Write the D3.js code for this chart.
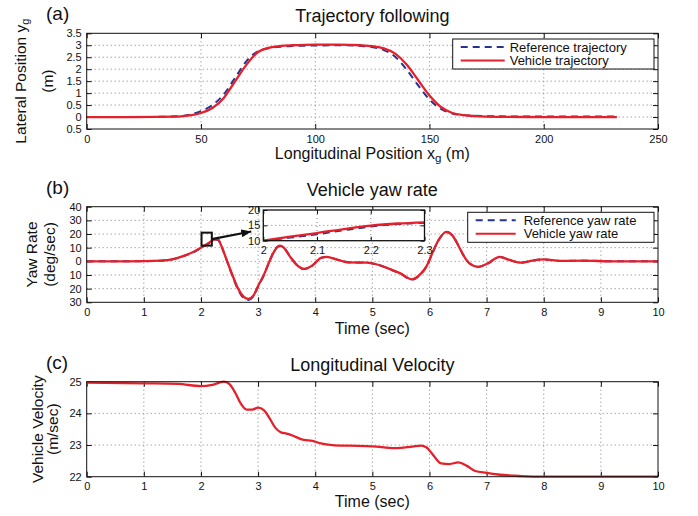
<!DOCTYPE html>
<html>
<head>
<meta charset="utf-8">
<script src="https://cdn.jsdelivr.net/npm/d3@7"></script>
<style>
body { margin: 0; background: #fff; }
text { font-family: "Liberation Sans", Arial, sans-serif; fill: #111; }
</style>
</head>
<body>
<div id="chart"></div>
<script>
// ---- data ----

// (a) trajectory following
var trajX   = [0, 20, 40, 45, 50, 55, 60, 65, 70, 75, 80, 85, 90, 100, 110, 120, 125, 130, 135, 140, 145, 150, 155, 160, 165, 170, 180, 200, 232];
var trajRef = [0, 0, 0.03, 0.1, 0.25, 0.5, 0.95, 1.65, 2.35, 2.75, 2.88, 2.94, 2.97, 2.99, 3.0, 2.97, 2.92, 2.8, 2.52, 1.98, 1.33, 0.73, 0.34, 0.15, 0.08, 0.05, 0.03, 0.02, 0.02];
var trajVeh = [0, 0, 0.02, 0.07, 0.17, 0.38, 0.8, 1.5, 2.2, 2.72, 2.9, 2.97, 3.0, 3.03, 3.03, 3.0, 2.96, 2.87, 2.65, 2.2, 1.55, 0.9, 0.42, 0.17, 0.08, 0.04, 0.01, 0, 0];
var trajXTicks = [0, 50, 100, 150, 200, 250];
var trajYTicks = [-0.5, 0, 0.5, 1, 1.5, 2, 2.5, 3, 3.5];

// (b) yaw rate
var yawT   = [0, 0.5, 1, 1.3, 1.5, 1.7, 1.9, 2.0, 2.1, 2.2, 2.25, 2.3, 2.35, 2.45, 2.55, 2.65, 2.75, 2.83, 2.92, 3.0, 3.1, 3.2, 3.3, 3.38, 3.45, 3.55, 3.65, 3.8, 3.95, 4.1, 4.2, 4.4, 4.6, 4.9, 5.1, 5.3, 5.5, 5.69, 5.85, 5.95, 6.05, 6.15, 6.3, 6.4, 6.5, 6.6, 6.7, 6.85, 7.0, 7.23, 7.4, 7.61, 7.8, 8.0, 8.3, 8.7, 9.2, 10];
var yawRef = [0, 0, 0.1, 0.5, 1.5, 4, 7.3, 9.7, 12.1, 14.8, 15.9, 15.6, 11.8, 0.8, -10.5, -20.8, -27, -28.3, -25.5, -18.5, -10.2, 0.3, 9, 11.3, 10, 4.2, -1.3, -5.6, -3.1, 2.5, 3.2, 1, -0.8, -1, -2.6, -5.6, -9.2, -13.4, -9.2, -3.6, 5.8, 14.8, 21.4, 19, 12.2, 4.2, -1.4, -4.1, -2.1, 3.2, 1, -1, 0.5, 1.4, 0.3, 0.5, 0, 0];
var yawVeh = [0, 0, 0.1, 0.5, 1.5, 4, 7.5, 10, 12.5, 15.3, 16.3, 16, 12, 1, -10, -20, -26, -27.5, -25, -18, -10, 0, 8.5, 11.5, 10, 4, -1.5, -5.5, -3, 2.5, 3.2, 1, -0.8, -1, -2.5, -5.5, -9, -13.2, -9, -3.5, 6, 15, 21.6, 19, 12, 4, -1.5, -4, -2, 3.3, 1, -1, 0.5, 1.4, 0.3, 0.5, 0, 0];
var timeTicks = [0, 1, 2, 3, 4, 5, 6, 7, 8, 9, 10];
var yawYTicks = [-30, -20, -10, 0, 10, 20, 30, 40];

// (b) inset, t = 2 .. 2.3
var zoomT   = [2, 2.05, 2.1, 2.15, 2.2, 2.25, 2.3];
var zoomRef = [10, 11.0, 12.1, 13.4, 14.6, 15.4, 15.8];
var zoomVeh = [10, 11.3, 12.5, 13.8, 14.9, 15.6, 16.0];
var zoomXTicks = [2, 2.1, 2.2, 2.3];
var zoomYTicks = [10, 15, 20];
var zoomBoxT = [2.01, 2.19];
var zoomBoxV = [11.5, 21];

// (c) longitudinal velocity
var velT   = [0, 1, 1.6, 2.0, 2.2, 2.4, 2.5, 2.6, 2.7, 2.8, 2.9, 3.0, 3.1, 3.2, 3.3, 3.4, 3.5, 3.6, 3.8, 3.95, 4.1, 4.3, 4.6, 5.0, 5.4, 5.7, 5.85, 5.95, 6.05, 6.2, 6.35, 6.5, 6.65, 6.8, 7.0, 7.2, 7.6, 8, 9, 10];
var velVeh = [24.97, 24.95, 24.93, 24.86, 24.9, 25.0, 24.92, 24.65, 24.3, 24.12, 24.12, 24.18, 24.1, 23.85, 23.55, 23.4, 23.36, 23.3, 23.16, 23.13, 23.05, 23.0, 22.98, 22.96, 22.9, 22.95, 22.98, 22.92, 22.72, 22.42, 22.4, 22.45, 22.35, 22.18, 22.12, 22.07, 22.02, 22.0, 22.0, 22.0];
var velYTicks = [22, 23, 24, 25];

// ---- layout ----
var plotL = 86.7, plotR = 658;
var red = "#e6202a", blue = "#26338f";
var absFmt = function(d) { return String(Math.abs(d)); };

var svg = d3.select("#chart").append("svg")
            .attr("width", 698)
            .attr("height", 516);

function makePanel(p) {
    var x = d3.scaleLinear().domain(p.xDomain).range([plotL, plotR]);
    var y = d3.scaleLinear().domain(p.yDomain).range([p.bottom, p.top]);
    var g = svg.append("g");

    // dotted grid
    g.selectAll(null).data(p.xTicks.slice(1, -1)).enter().append("line")
        .attr("x1", d => x(d)).attr("x2", d => x(d))
        .attr("y1", p.top).attr("y2", p.bottom)
        .attr("stroke", "#808080").attr("stroke-dasharray", "1,3");
    g.selectAll(null).data(p.yTicks.slice(1, -1)).enter().append("line")
        .attr("y1", d => y(d)).attr("y2", d => y(d))
        .attr("x1", plotL).attr("x2", plotR)
        .attr("stroke", "#808080").attr("stroke-dasharray", "1,3");

    // ticks on all four sides, pointing in
    g.append("g").attr("transform", "translate(0," + p.bottom + ")")
        .call(d3.axisBottom(x).tickValues(p.xTicks).tickSize(-5).tickPadding(6).tickFormat(p.xFormat || absFmt));
    g.append("g").attr("transform", "translate(0," + p.top + ")")
        .call(d3.axisTop(x).tickValues(p.xTicks).tickSize(-5).tickFormat(""));
    g.append("g").attr("transform", "translate(" + plotL + ",0)")
        .call(d3.axisLeft(y).tickValues(p.yTicks).tickSize(-5).tickPadding(5).tickFormat(absFmt));
    g.append("g").attr("transform", "translate(" + plotR + ",0)")
        .call(d3.axisRight(y).tickValues(p.yTicks).tickSize(-5).tickFormat(""));
    g.selectAll(".domain").remove();
    g.selectAll(".tick line").attr("stroke", "#111");
    g.selectAll(".tick text").attr("font-size", 11).attr("font-family", null).style("fill", "#111");

    // title and panel letter
    svg.append("text").attr("x", (plotL + plotR) / 2).attr("y", p.top - 11)
        .attr("text-anchor", "middle").attr("font-size", 18).text(p.title);
    svg.append("text").attr("x", 46).attr("y", p.top - 13)
        .attr("font-size", 19).text(p.letter);

    return {x: x, y: y, g: g};
}

function frame(g, p) {
    g.append("rect").attr("x", plotL).attr("y", p.top)
        .attr("width", plotR - plotL).attr("height", p.bottom - p.top)
        .attr("fill", "none").attr("stroke", "#111").attr("stroke-width", 1);
}

function drawLine(g, xs, ys, x, y, color, dashed) {
    var line = d3.line().x((d, i) => x(xs[i])).y(d => y(d)).curve(d3.curveMonotoneX);
    g.append("path").datum(ys).attr("d", line)
        .attr("fill", "none").attr("stroke", color)
        .attr("stroke-width", dashed ? 2 : 2.3)
        .attr("stroke-dasharray", dashed ? "7,5" : null);
}

function legend(g, x0, y0, w, h, sample, textX, items) {
    g.append("rect").attr("x", x0).attr("y", y0).attr("width", w).attr("height", h)
        .attr("fill", "#fff").attr("stroke", "#111");
    items.forEach(function(it, i) {
        var cy = y0 + 8 + i * 13.5;
        g.append("line").attr("x1", x0 + sample[0]).attr("x2", x0 + sample[1])
            .attr("y1", cy).attr("y2", cy)
            .attr("stroke", it.color).attr("stroke-width", 2)
            .attr("stroke-dasharray", it.dashed ? "7,5" : null);
        g.append("text").attr("x", x0 + textX).attr("y", cy + 4.5)
            .attr("font-size", 13).text(it.label);
    });
}

function yLabel(cy, x1, x2, line1, sub, line2) {
    var t = svg.append("text").attr("transform", "translate(" + x1 + "," + cy + ") rotate(-90)")
        .attr("text-anchor", "middle").attr("font-size", 15.5);
    t.append("tspan").text(line1);
    if (sub) t.append("tspan").attr("font-size", 11).attr("dy", 3).text(sub);
    svg.append("text").attr("transform", "translate(" + x2 + "," + cy + ") rotate(-90)")
        .attr("text-anchor", "middle").attr("font-size", 15.5).text(line2);
}

// ---- (a) ----
var pa = {top: 33.3, bottom: 129, xDomain: [0, 250], yDomain: [-0.5, 3.5],
          xTicks: trajXTicks, yTicks: trajYTicks, title: "Trajectory following", letter: "(a)"};
var A = makePanel(pa);
drawLine(A.g, trajX, trajRef, A.x, A.y, blue, true);
drawLine(A.g, trajX, trajVeh, A.x, A.y, red, false);
frame(A.g, pa);
legend(A.g, 452.7, 39, 201.3, 30, [8, 52], 57, [
    {label: "Reference trajectory", color: blue, dashed: true},
    {label: "Vehicle trajectory", color: red, dashed: false}]);
var xla = svg.append("text").attr("x", (plotL + plotR) / 2).attr("y", 159)
    .attr("text-anchor", "middle").attr("font-size", 16);
xla.append("tspan").text("Longitudinal Position x");
xla.append("tspan").attr("font-size", 11.5).attr("dy", 3).text("g");
xla.append("tspan").attr("dy", -3).text(" (m)");
yLabel((pa.top + pa.bottom) / 2, 26, 53, "Lateral Position y", "g", "(m)");

// ---- (b) ----
var pb = {top: 206.7, bottom: 302.3, xDomain: [0, 10], yDomain: [-30, 40],
          xTicks: timeTicks, yTicks: yawYTicks, title: "Vehicle yaw rate", letter: "(b)"};
var B = makePanel(pb);
drawLine(B.g, yawT, yawRef, B.x, B.y, blue, true);
drawLine(B.g, yawT, yawVeh, B.x, B.y, red, false);
frame(B.g, pb);
legend(B.g, 467.7, 212.3, 186.3, 30, [8, 48], 56, [
    {label: "Reference yaw rate", color: blue, dashed: true},
    {label: "Vehicle yaw rate", color: red, dashed: false}]);
svg.append("text").attr("x", (plotL + plotR) / 2).attr("y", 334)
    .attr("text-anchor", "middle").attr("font-size", 16).text("Time (sec)");
yLabel((pb.top + pb.bottom) / 2, 37, 55, "Yaw Rate", null, "(deg/sec)");

// zoom square
B.g.append("rect")
    .attr("x", B.x(zoomBoxT[0])).attr("y", B.y(zoomBoxV[1]))
    .attr("width", B.x(zoomBoxT[1]) - B.x(zoomBoxT[0]))
    .attr("height", B.y(zoomBoxV[0]) - B.y(zoomBoxV[1]))
    .attr("fill", "none").attr("stroke", "#111").attr("stroke-width", 2);

// inset
var ix = d3.scaleLinear().domain([2, 2.3]).range([263.3, 424.5]);
var iy = d3.scaleLinear().domain([10, 20]).range([240.7, 210]);
var ig = svg.append("g");
ig.append("rect").attr("x", 263.3).attr("y", 210).attr("width", 424.5 - 263.3).attr("height", 30.7)
    .attr("fill", "#fff");
ig.selectAll(null).data(zoomXTicks.slice(1, -1)).enter().append("line")
    .attr("x1", d => ix(d)).attr("x2", d => ix(d)).attr("y1", 210).attr("y2", 240.7)
    .attr("stroke", "#808080").attr("stroke-dasharray", "1,3");
ig.selectAll(null).data(zoomYTicks.slice(1, -1)).enter().append("line")
    .attr("y1", d => iy(d)).attr("y2", d => iy(d)).attr("x1", 263.3).attr("x2", 424.5)
    .attr("stroke", "#808080").attr("stroke-dasharray", "1,3");
ig.append("g").attr("transform", "translate(0,240.7)")
    .call(d3.axisBottom(ix).tickValues(zoomXTicks).tickSize(-4).tickPadding(6).tickFormat(d => String(d)));
ig.append("g").attr("transform", "translate(0,210)")
    .call(d3.axisTop(ix).tickValues(zoomXTicks).tickSize(-4).tickFormat(""));
ig.append("g").attr("transform", "translate(263.3,0)")
    .call(d3.axisLeft(iy).tickValues(zoomYTicks).tickSize(-4).tickPadding(3));
ig.append("g").attr("transform", "translate(424.5,0)")
    .call(d3.axisRight(iy).tickValues(zoomYTicks).tickSize(-4).tickFormat(""));
ig.selectAll(".domain").remove();
ig.selectAll(".tick line").attr("stroke", "#111");
ig.selectAll(".tick text").attr("font-size", 11).attr("font-family", null).style("fill", "#111");
drawLine(ig, zoomT, zoomRef, ix, iy, blue, true);
drawLine(ig, zoomT, zoomVeh, ix, iy, red, false);
ig.append("rect").attr("x", 263.3).attr("y", 210).attr("width", 424.5 - 263.3).attr("height", 30.7)
    .attr("fill", "none").attr("stroke", "#111").attr("stroke-width", 1.3);

// arrow from the square to the inset
svg.append("defs").append("marker").attr("id", "arrow")
    .attr("viewBox", "0 0 10 8").attr("refX", 10).attr("refY", 4)
    .attr("markerWidth", 10).attr("markerHeight", 8).attr("markerUnits", "userSpaceOnUse")
    .attr("orient", "auto")
    .append("path").attr("d", "M0,0L10,4L0,8Z").attr("fill", "#111");
svg.append("line")
    .attr("x1", B.x(zoomBoxT[1])).attr("y1", B.y(16.3))
    .attr("x2", ix(2) - 12).attr("y2", iy(13))
    .attr("stroke", "#111").attr("stroke-width", 2.2)
    .attr("marker-end", "url(#arrow)");

// ---- (c) ----
var pc = {top: 381.7, bottom: 476.7, xDomain: [0, 10], yDomain: [22, 25],
          xTicks: timeTicks, yTicks: velYTicks, title: "Longitudinal Velocity", letter: "(c)"};
var C = makePanel(pc);
drawLine(C.g, velT, velVeh, C.x, C.y, red, false);
frame(C.g, pc);
svg.append("text").attr("x", (plotL + plotR) / 2).attr("y", 507)
    .attr("text-anchor", "middle").attr("font-size", 16).text("Time (sec)");
yLabel((pc.top + pc.bottom) / 2, 43, 58, "Vehicle Velocity", null, "(m/sec)");
</script>
</body>
</html>
